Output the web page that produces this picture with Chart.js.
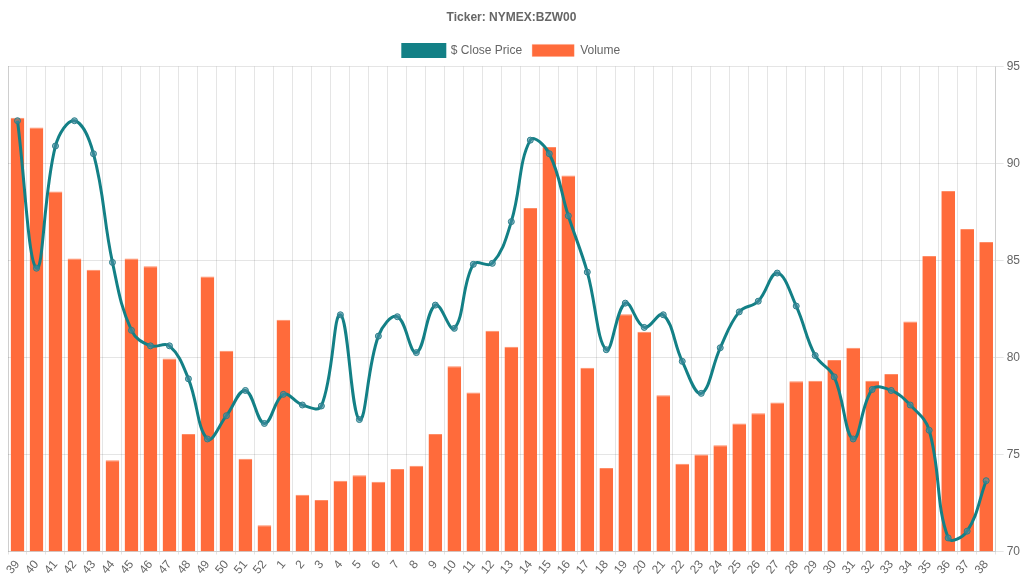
<!DOCTYPE html>
<html>
<head>
<meta charset="utf-8">
<script src="https://cdn.jsdelivr.net/npm/chart.js@4"></script>
<style>
  html, body { margin: 0; padding: 0; background: #fff; overflow: hidden; }
  #wrap { width: 1024px; height: 580px; }
</style>
</head>
<body>
<div id="wrap"><canvas id="myChart"></canvas></div>
<script>
let weeks = ['39','40','41','42','43','44','45','46','47','48','49','50','51','52',
  '1','2','3','4','5','6','7','8','9','10','11','12','13','14','15','16','17','18','19','20',
  '21','22','23','24','25','26','27','28','29','30','31','32','33','34','35','36','37','38'];
let closePrice = [92.2, 84.6, 90.9, 92.2, 90.5, 84.9, 81.4, 80.6, 80.6, 78.9, 75.8, 77.0, 78.3, 76.6,
  78.1, 77.55, 77.5, 82.2, 76.8, 81.1, 82.1, 80.25, 82.7, 81.5, 84.8, 84.85, 87.0, 91.2, 90.5, 87.3,
  84.4, 80.4, 82.8, 81.55, 82.2, 79.8, 78.15, 80.5, 82.35, 82.9, 84.35, 82.65, 80.1, 79.0, 75.8,
  78.35, 78.3, 77.55, 76.25, 70.7, 71.05, 73.65];
let volume = [89.4, 87.4, 74.2, 60.4, 58.1, 18.8, 60.4, 58.8, 39.8, 24.2, 56.7, 41.4, 19.1, 5.4,
  47.8, 11.7, 10.6, 14.6, 15.7, 14.4, 17.0, 17.7, 24.2, 38.2, 32.8, 45.5, 42.2, 70.8, 83.4, 77.5,
  37.9, 17.2, 48.9, 45.3, 32.2, 18.1, 20.0, 21.9, 26.4, 28.5, 30.7, 35.1, 35.2, 39.5, 42.0,
  35.2, 36.6, 47.4, 60.9, 74.3, 66.5, 63.8];
let priceTicks = [70, 95];

Chart.defaults.font.family = '"Liberation Sans", Arial, sans-serif';
Chart.defaults.font.size = 12;
Chart.defaults.color = '#666';

let ctx = document.getElementById('myChart').getContext('2d');
let myChart = new Chart(ctx, {
  type: 'bar',
  data: {
    labels: weeks,
    datasets: [{
      type: 'line',
      label: '$ Close Price',
      data: closePrice,
      yAxisID: 'price',
      borderColor: '#138086',
      backgroundColor: '#138086',
      borderWidth: 3,
      tension: 0.4,
      fill: false,
      pointRadius: 3,
      pointBorderWidth: 1,
      pointBackgroundColor: 'rgba(70,140,160,0.6)',
      pointBorderColor: '#2a7f8a'
    }, {
      label: 'Volume',
      data: volume,
      yAxisID: 'volume',
      backgroundColor: '#ff6b3b',
      borderColor: '#ff8c66',
      borderWidth: {top: 1, left: 0, right: 0, bottom: 0}
    }]
  },
  options: {
    responsive: true,
    maintainAspectRatio: false,
    animation: false,
    layout: { padding: { left: 0, right: 1, top: 0, bottom: 0 } },
    plugins: {
      title: {
        display: true,
        text: 'Ticker: NYMEX:BZW00',
        font: { weight: 'bold', size: 12 },
        padding: { top: 10, bottom: 10 }
      },
      legend: {
        position: 'top',
        labels: { boxWidth: 42, boxHeight: 12 }
      }
    },
    scales: {
      x: {
        grid: { color: 'rgba(0,0,0,0.1)', tickLength: 3 },
        ticks: { maxRotation: 50, minRotation: 50, autoSkip: false }
      },
      volume: {
        position: 'left',
        min: 0,
        max: 100,
        grid: { display: false },
        ticks: { display: false },
        border: { display: true }
      },
      price: {
        position: 'right',
        min: priceTicks[0],
        max: priceTicks[1],
        ticks: { stepSize: 5 },
        grid: { color: 'rgba(0,0,0,0.1)' }
      }
    }
  }
});
</script>
</body>
</html>
